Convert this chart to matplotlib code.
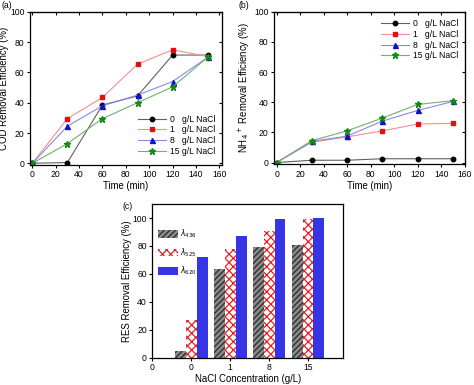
import matplotlib
matplotlib.use("Agg")
import matplotlib.pyplot as plt
import numpy as np

plt.rcParams['font.family'] = ['Liberation Sans', 'DejaVu Sans']
plt.rcParams['hatch.linewidth'] = 0.9

time = [0, 30, 60, 90, 120, 150]
series_labels = ['0   g/L NaCl', '1   g/L NaCl', '8   g/L NaCl', '15 g/L NaCl']

cod_0 = [0, 0.5, 38.5, 44.5, 71.5, 71.5]
cod_1 = [0, 29.5, 43.5, 65.5, 75, 70.5]
cod_8 = [0, 24.5, 38, 45, 54, 70]
cod_15 = [0, 13, 29.5, 40, 50.5, 70]

nh4_0 = [0, 1.5, 1.5, 2.5, 2.5, 2.5]
nh4_1 = [0, 13.5, 17, 21, 25.5, 26]
nh4_8 = [0, 14, 17.5, 27.5, 34.5, 40.5]
nh4_15 = [0, 14.5, 21, 29.5, 38.5, 41]

nacl_cats = ['0', '1', '8', '15']
res_436 = [4.5, 63.5, 79.5, 81]
res_525 = [27, 77.5, 91, 99.5]
res_620 = [72, 87.5, 99.5, 100]

marker_colors = ['black', '#e01010', '#1010d0', '#108a10']
line_colors = ['#606060', '#f09090', '#8888ee', '#70b070']
markers = ['o', 's', '^', '*']
msizes = [3.2, 3.2, 3.6, 4.5]

tfs = 6.2
lfs = 6.9
fig = plt.figure(figsize=(4.74, 3.85), dpi=100)

def style(ax):
    ax.tick_params(direction='out', labelsize=tfs, length=2.5, width=0.8, pad=1.5)
    for s in ax.spines.values():
        s.set_linewidth(0.9)

def mirror_in(ax):
    sy = ax.secondary_yaxis('right')
    sy.set_yticks(ax.get_yticks())
    sy.tick_params(direction='in', length=2.5, width=0.8, labelright=False)
    sx = ax.secondary_xaxis('top')
    sx.set_xticks(ax.get_xticks())
    sx.tick_params(direction='in', length=2.5, width=0.8, labeltop=False)

def line_panel(ax, data, ylabel, legend_loc, anchor, xlim, ylab_x):
    for i, ys in enumerate(data):
        ax.plot(time, ys, color=line_colors[i], lw=0.8, marker=markers[i], ms=msizes[i],
                mfc=marker_colors[i], mec=marker_colors[i], label=series_labels[i])
    ax.set_xlim(*xlim)
    ax.set_ylim(-1, 100)
    ax.set_xticks(range(0, 161, 20))
    ax.set_yticks(range(0, 101, 20))
    ax.set_xlabel('Time (min)', fontsize=lfs, labelpad=1.5)
    ax.set_ylabel(ylabel, fontsize=lfs)
    ax.yaxis.set_label_coords(ylab_x, 0.5)
    ax.legend(loc=legend_loc, bbox_to_anchor=anchor, frameon=False, fontsize=tfs,
              handlelength=3.2, labelspacing=0.2, handletextpad=0.5, borderpad=0.2)
    style(ax)
    mirror_in(ax)

# (a)
axa = fig.add_axes([0.0633, 0.572, 0.4044, 0.397])
line_panel(axa, [cod_0, cod_1, cod_8, cod_15], 'COD Removal Efficiency (%)',
           'lower right', (1.0, 0.02), (-2, 162), -0.108)
fig.text(0.004, 0.998, '(a)', fontsize=tfs, va='top')

# (b)
axb = fig.add_axes([0.5787, 0.574, 0.4017, 0.3956])
line_panel(axb, [nh4_0, nh4_1, nh4_8, nh4_15], r'NH$_4$$^+$ Removal Efficiency (%)',
           'upper right', (1.0, 0.99), (-2, 160), -0.115)
fig.text(0.503, 0.998, '(b)', fontsize=tfs, va='top')

# (c)
axc = fig.add_axes([0.3217, 0.0709, 0.402, 0.399])
x = np.arange(1, len(nacl_cats) + 1)
w = 0.28
axc.bar(x - w, res_436, w, facecolor='#8a8a8a', edgecolor='#2a2a2a', hatch='//////',
        lw=0, label=r'$\lambda_{436}$')
axc.bar(x, res_525, w, facecolor='white', edgecolor='#e82020', hatch='xxxx',
        lw=0, label=r'$\lambda_{525}$')
axc.bar(x + w, res_620, w, facecolor='#3535e6', edgecolor='#3535e6',
        lw=0, label=r'$\lambda_{620}$')
axc.set_xlim(0, 4.9)
axc.set_ylim(0, 110)
axc.set_xticks([0] + list(x))
axc.set_xticklabels(['0'] + nacl_cats)
axc.set_yticks(range(0, 101, 20))
axc.set_xlabel('NaCl Concentration (g/L)', fontsize=lfs, labelpad=1.5)
axc.set_ylabel('RES Removal Efficiency (%)', fontsize=lfs)
axc.yaxis.set_label_coords(-0.108, 0.5)
axc.legend(loc='upper left', bbox_to_anchor=(0.0, 0.88), frameon=False, fontsize=5.5,
           handlelength=2.6, handleheight=1.15, labelspacing=0.75, handletextpad=0.3,
           borderpad=0.2)
style(axc)
fig.text(0.258, 0.475, '(c)', fontsize=tfs, va='top')

fig.savefig('out.png', dpi=100)
